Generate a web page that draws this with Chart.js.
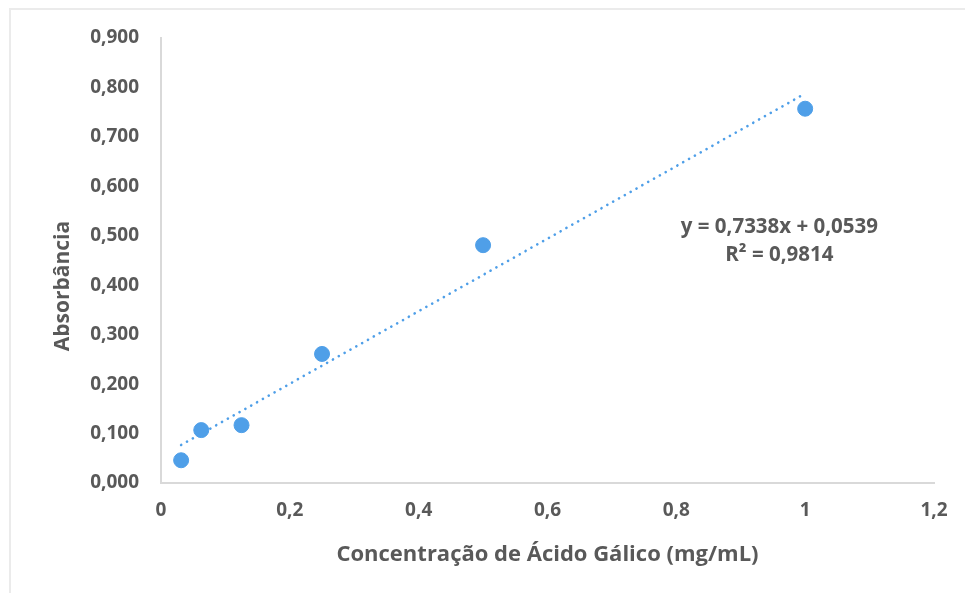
<!DOCTYPE html>
<html>
<head>
<meta charset="utf-8">
<script src="https://cdn.jsdelivr.net/npm/chart.js@4.4.1/dist/chart.umd.min.js"></script>
<style>
   body { margin: 0; background: #fff; }
   #wrap { position: relative; width: 965px; height: 593px; }
   #frame { position: absolute; left: 9px; top: 8px; right: -5px; bottom: -5px; border-left: 2px solid #ebebeb; border-top: 2px solid #ebebeb; }
   canvas { position: absolute; left: 0; top: 0; }
</style>
</head>
<body>
<div id="wrap">
   <div id="frame"></div>
   <canvas id="graphique" width="965" height="593"></canvas>
</div>
<script>
// concentração (mg/mL) e absorbância lidas
const concentracao = [0.03125, 0.0625, 0.125, 0.25, 0.5, 1];
const absorbancia = [0.046, 0.107, 0.117, 0.261, 0.481, 0.757];

// linha de tendência linear
const inclinacao = 0.7338;
const intercepto = 0.0539;
const r2 = 0.9814;

const yTicks = [0, 0.1, 0.2, 0.3, 0.4, 0.5, 0.6, 0.7, 0.8, 0.9];
const xTicks = [0, 0.2, 0.4, 0.6, 0.8, 1, 1.2];

const AZUL = '#4f9fe8';
const CINZA = '#595959';
const FONTE = '"Open Sans", sans-serif';

const pontos = concentracao.map((x, i) => ({ x: x, y: absorbancia[i] }));
const xMin = Math.min(...concentracao);
const xMax = Math.max(...concentracao);
const tendencia = [
   { x: xMin, y: inclinacao * xMin + intercepto },
   { x: xMax, y: inclinacao * xMax + intercepto }
];

const virgula = v => String(v).replace('.', ',');

// titulo do eixo y e equação da reta
const textos = {
   id: 'textos',
   afterDraw(chart) {
      const c = chart.ctx;
      const sx = chart.scales.x, sy = chart.scales.y;
      c.save();
      c.fillStyle = CINZA;
      c.textAlign = 'center';
      c.textBaseline = 'middle';

      c.font = 'bold 21px ' + FONTE;
      c.translate(63, 286);
      c.rotate(-Math.PI / 2);
      c.fillText('Absorbância', 0, 0);
      c.setTransform(1, 0, 0, 1, 0, 0);

      const ex = sx.getPixelForValue(0.96);
      c.font = 'bold 20.5px ' + FONTE;
      c.fillText('y = ' + virgula(inclinacao) + 'x + ' + virgula(intercepto), ex, sy.getPixelForValue(0.518));
      c.fillText('R² = ' + virgula(r2), ex, sy.getPixelForValue(0.461));
      c.restore();
   }
};

const ctx = document.getElementById('graphique');

const myChart = new Chart(ctx, {
   type: 'scatter',
   data: {
      datasets: [{
         label: 'Absorbância',
         data: pontos,
         backgroundColor: AZUL,
         borderColor: AZUL,
         pointRadius: 7.5,
         pointHoverRadius: 7.5,
         order: 1
      }, {
         label: 'Linear',
         type: 'line',
         data: tendencia,
         borderColor: AZUL,
         borderWidth: 2.6,
         borderDash: [0.1, 6.6],
         borderCapStyle: 'round',
         pointRadius: 0,
         fill: false,
         order: 2
      }]
   },
   options: {
      responsive: false,
      animation: false,
      layout: {
         padding: { left: 10, top: 38, right: 31, bottom: 0 }
      },
      scales: {
         x: {
            type: 'linear',
            min: 0,
            max: 1.2,
            afterBuildTicks: s => { s.ticks = xTicks.map(v => ({ value: v })); },
            afterFit: s => { s.height = 110; },
            grid: { display: false, drawTicks: false },
            border: { color: '#d9d9d9', width: 2 },
            ticks: {
               padding: 16,
               color: CINZA,
               font: { family: FONTE, size: 19, weight: 'bold' },
               callback: v => virgula(Math.round(v * 10) / 10)
            },
            title: {
               display: true,
               text: 'Concentração de Ácido Gálico (mg/mL)',
               color: CINZA,
               font: { family: FONTE, size: 22, weight: 'bold' },
               padding: { top: 8, bottom: 25 }
            }
         },
         y: {
            min: 0,
            max: 0.9,
            afterBuildTicks: s => { s.ticks = yTicks.map(v => ({ value: v })); },
            afterFit: s => { s.width = 151; },
            grid: { display: false, drawTicks: false },
            border: { color: '#d9d9d9', width: 2 },
            ticks: {
               padding: 22,
               color: CINZA,
               font: { family: FONTE, size: 19, weight: 'bold' },
               callback: v => v.toFixed(3).replace('.', ',')
            }
         }
      },
      plugins: {
         legend: { display: false },
         tooltip: { enabled: false }
      }
   },
   plugins: [textos]
});
</script>
</body>
</html>
